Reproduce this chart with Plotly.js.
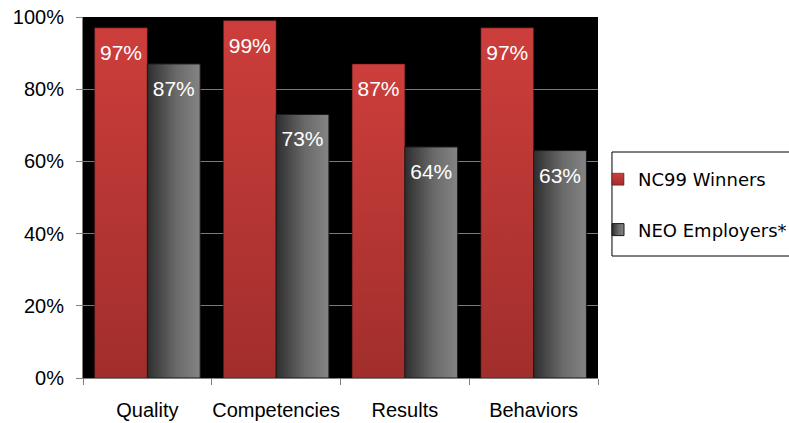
<!DOCTYPE html>
<html><head><meta charset="utf-8">
<script src="https://cdn.plot.ly/plotly-3.0.1.min.js"></script>
<style>body{margin:0;background:#fff}#chart{width:789px;height:423px}</style>
</head><body><div id="chart"></div>
<script>
var categories = ["Quality", "Competencies", "Results", "Behaviors"];
var seriesNames = ["NC99 Winners", "NEO Employers*"];
var nc99 = [0.97, 0.99, 0.87, 0.97];
var neo = [0.87, 0.73, 0.64, 0.63];
var yTickVals = [0, 0.2, 0.4, 0.6, 0.8, 1.0];
var yTickText = ["0%", "20%", "40%", "60%", "80%", "100%"];

function pct(v){ return Math.round(v*100) + "%"; }

var common = {
  type: "bar",
  textposition: "inside",
  insidetextanchor: "end",
  textangle: 0,
  textfont: {family: "Liberation Sans, Arial", size: 21, color: "#ffffff"},
  hoverinfo: "skip",
  cliponaxis: false
};
var traces = [
  Object.assign({}, common, {x: categories, y: nc99, name: seriesNames[0], text: nc99.map(pct),
    legendgroup: "a", marker: {color: "#c03835", line: {color: "#3a1110", width: 0.5}}}),
  Object.assign({}, common, {x: categories, y: neo, name: seriesNames[1], text: neo.map(pct),
    legendgroup: "b", marker: {color: "#5a5a5a", line: {color: "#1a1a1a", width: 1}}})
];

var W = 789, H = 423;
var L = 83, R = 599, T = 17, B = 378;
var pw = R - L, ph = B - T;
function px(x){ return (x - L) / pw; }
function py(y){ return (B - y) / ph; }

var layout = {
  width: W, height: H,
  margin: {l: L, r: W - R, t: T, b: H - B, pad: 0},
  paper_bgcolor: "#ffffff",
  plot_bgcolor: "#000000",
  barmode: "group",
  bargap: 0.18,
  bargroupgap: 0,
  font: {family: "Liberation Sans, Arial", size: 20, color: "#000"},
  showlegend: true,
  legend: {
    xref: "container", yref: "container",
    x: 598 / W, xanchor: "left", y: 1 - 161 / H, yanchor: "top",
    bgcolor: "rgba(0,0,0,0)", borderwidth: 0,
    font: {family: "DejaVu Sans", size: 18, color: "#000"},
    traceorder: "grouped", tracegroupgap: 24
  },
  xaxis: {
    type: "category",
    tickson: "boundaries",
    ticks: "outside", ticklen: 6, tickcolor: "#808080", tickwidth: 1,
    showline: true, linecolor: "#808080", linewidth: 1,
    showgrid: false, zeroline: false,
    tickangle: 0,
    tickfont: {size: 20},
    ticklabelstandoff: 14,
    fixedrange: true
  },
  yaxis: {
    range: [0, 1],
    tickvals: yTickVals, ticktext: yTickText,
    ticks: "outside", ticklen: 6, tickcolor: "#808080", tickwidth: 1,
    showline: true, linecolor: "#808080", linewidth: 1,
    showgrid: true, gridcolor: "#7a7a7a", gridwidth: 1,
    zeroline: false,
    tickfont: {size: 20},
    ticklabelstandoff: 8,
    fixedrange: true
  },
  shapes: [{
    type: "rect", xref: "paper", yref: "paper",
    x0: px(613), x1: px(792), y0: py(256), y1: py(152),
    line: {color: "#000", width: 1}, fillcolor: "rgba(0,0,0,0)", layer: "below"
  }]
};

Plotly.newPlot("chart", traces, layout, {displayModeBar: false, staticPlot: true}).then(function(gd){
  var ns = "http://www.w3.org/2000/svg";
  var svg = gd.querySelector(".main-svg");
  var defs = svg.querySelector("defs");
  if (!defs) { defs = document.createElementNS(ns, "defs"); svg.insertBefore(defs, svg.firstChild); }
  function grad(id, x2, y2, stops){
    var g = document.createElementNS(ns, "linearGradient");
    g.setAttribute("id", id);
    g.setAttribute("x1", "0"); g.setAttribute("y1", "0");
    g.setAttribute("x2", x2); g.setAttribute("y2", y2);
    stops.forEach(function(s){
      var st = document.createElementNS(ns, "stop");
      st.setAttribute("offset", s[0]); st.setAttribute("stop-color", s[1]);
      g.appendChild(st);
    });
    defs.appendChild(g);
  }
  grad("gRed", "0", "1", [["0", "#cc3e3b"], ["1", "#a12e2c"]]);
  grad("gGray", "1", "0", [["0", "#2e2e2e"], ["0.55", "#6a6a6a"], ["1", "#848484"]]);
  var ids = ["url(#gRed)", "url(#gGray)"];
  gd.querySelectorAll(".barlayer .trace").forEach(function(t, i){
    t.querySelectorAll(".point path").forEach(function(p){ p.style.fill = ids[i]; });
    t.querySelectorAll(".point text").forEach(function(tx){
      tx.setAttribute("transform", (tx.getAttribute("transform") || "") + " translate(0,10)");
    });
  });
  gd.querySelectorAll(".legend .traces").forEach(function(t, i){
    t.querySelectorAll(".legendpoints path").forEach(function(p){ p.style.fill = ids[i]; });
  });
});
</script>
</body></html>
